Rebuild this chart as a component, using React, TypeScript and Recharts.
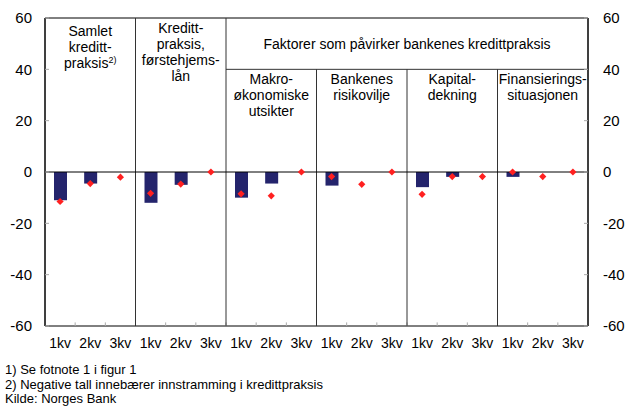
import {
  Bar,
  ComposedChart,
  Line,
  ReferenceArea,
  ReferenceDot,
  ReferenceLine,
  Scatter,
  XAxis,
  YAxis,
} from 'recharts'

const quarters = ['1kv', '2kv', '3kv']
const groupTitles = [
  ['Samlet', 'kreditt-', 'praksis'],
  ['Kreditt-', 'praksis,', 'førstehjems-', 'lån'],
  ['Makro-', 'økonomiske', 'utsikter'],
  ['Bankenes', 'risikovilje'],
  ['Kapital-', 'dekning'],
  ['Finansierings-', 'situasjonen'],
]
const factorTitle = 'Faktorer som påvirker bankenes kredittpraksis'
// bars: 1kv, 2kv, 3kv for each group
const barValues = [
  -11, -4.5, null,
  -12, -5, null,
  -10, -4.5, null,
  -5.3, null, null,
  -5.9, -1.9, null,
  -1.9, null, null,
]
// red diamonds
const dotValues = [
  -11.5, -4.5, -2,
  -8.3, -4.7, 0,
  -8.5, -9.3, 0,
  -1.8, -4.8, 0,
  -8.7, -1.8, -1.8,
  0, -1.8, 0,
]
const yTicks = [-60, -40, -20, 0, 20, 40, 60]
const footnotes = [
  '1) Se fotnote 1 i figur 1',
  '2) Negative tall innebærer innstramming i kredittpraksis',
  'Kilde: Norges Bank',
]

const data = barValues.map((b, i) => ({ x: i + 0.5, bar: b, dot: dotValues[i] }))
const xTicks = data.map((d) => d.x)
const boundaries = Array.from({ length: 17 }, (_, i) => i + 1)

const font = 'Liberation Sans, Arial, sans-serif'
const narrow = 'Liberation Sans Narrow, Liberation Sans, Arial, sans-serif'

function Diamond(props: any) {
  const { cx, cy } = props
  if (cx == null || cy == null) return null
  const r = 3.6
  return (
    <path
      d={`M${cx},${cy - r}L${cx + r},${cy}L${cx},${cy + r}L${cx - r},${cy}Z`}
      fill="#ff2020"
    />
  )
}

function headerShape(lines: string[], sup?: string) {
  return (p: any) => (
    <text
      x={p.cx}
      y={p.cy}
      textAnchor="middle"
      fontFamily={font}
      fontSize={14}
      fill="#000"
    >
      {lines.map((l, i) => (
        <tspan key={i} x={p.cx} dy={i === 0 ? 0 : 16}>
          {l}
          {sup && i === lines.length - 1 ? (
            <tspan fontSize={9} dy={-5}>
              {sup}
            </tspan>
          ) : null}
        </tspan>
      ))}
    </text>
  )
}

export default function App() {
  return (
    <div style={{ position: 'absolute', left: 0, top: 0, width: 631, height: 414, background: '#fff' }}>
      <ComposedChart
        width={631}
        height={352}
        data={data}
        margin={{ top: 18, right: 0, bottom: 0, left: 0 }}
      >
        <XAxis
          dataKey="x"
          type="number"
          domain={[0, 18]}
          ticks={xTicks}
          interval={0}
          tickFormatter={(v: number) => quarters[Math.floor(v) % 3]}
          axisLine={false}
          tickLine={false}
          tickSize={0}
          tickMargin={12}
          height={26}
          tick={{ fill: '#000', fontSize: 14, fontFamily: narrow }}
        />
        <YAxis
          yAxisId="l"
          domain={[-60, 60]}
          ticks={yTicks}
          width={45}
          axisLine={{ stroke: '#000' }}
          tickLine={{ stroke: '#aaa' }}
          tickSize={-4}
          tickMargin={17}
          tick={{ fill: '#000', fontSize: 15, fontFamily: font }}
        />
        <YAxis
          yAxisId="r"
          orientation="right"
          domain={[-60, 60]}
          ticks={yTicks}
          width={43}
          axisLine={{ stroke: '#000' }}
          tickLine={{ stroke: '#aaa' }}
          tickSize={-4}
          tickMargin={19}
          tick={{ fill: '#000', fontSize: 15, fontFamily: font }}
        />
        <ReferenceArea
          yAxisId="l"
          x1={0}
          x2={18}
          y1={-60}
          y2={60}
          fill="none"
          fillOpacity={0}
          stroke="#000"
          strokeWidth={1}
        />
        {boundaries.map((b) => (
          <ReferenceLine
            key={`t${b}`}
            yAxisId="l"
            segment={[
              { x: b, y: -60 },
              { x: b, y: -58.6 },
            ]}
            stroke="#aaa"
          />
        ))}
        {[3, 6].map((b) => (
          <ReferenceLine
            key={`g${b}`}
            yAxisId="l"
            segment={[
              { x: b, y: -60 },
              { x: b, y: 60 },
            ]}
            stroke="#333"
          />
        ))}
        {[9, 12, 15].map((b) => (
          <ReferenceLine
            key={`f${b}`}
            yAxisId="l"
            segment={[
              { x: b, y: -60 },
              { x: b, y: 40 },
            ]}
            stroke="#333"
          />
        ))}
        <ReferenceLine
          yAxisId="l"
          segment={[
            { x: 6, y: 40 },
            { x: 18, y: 40 },
          ]}
          stroke="#333"
        />
        <ReferenceLine yAxisId="l" y={0} stroke="#000" />
        <Bar
          yAxisId="l"
          dataKey="bar"
          barSize={13}
          fill="#24246c"
          isAnimationActive={false}
        />
        <Scatter
          yAxisId="l"
          dataKey="dot"
          shape={<Diamond />}
          isAnimationActive={false}
        />
        {/* invisible series so the right axis gets drawn */}
        <Line
          yAxisId="r"
          dataKey="dot"
          stroke="none"
          dot={false}
          activeDot={false}
          legendType="none"
          isAnimationActive={false}
        />
        <ReferenceDot yAxisId="l" x={1.5} y={52.8} r={0} shape={headerShape(groupTitles[0], '2)')} />
        <ReferenceDot yAxisId="l" x={4.5} y={54.2} r={0} shape={headerShape(groupTitles[1])} />
        <ReferenceDot yAxisId="l" x={12} y={48.1} r={0} shape={headerShape([factorTitle])} />
        {groupTitles.slice(2).map((t, i) => (
          <ReferenceDot
            key={`h${i}`}
            yAxisId="l"
            x={7.5 + i * 3}
            y={34.1}
            r={0}
            shape={headerShape(t)}
          />
        ))}
      </ComposedChart>
      <div
        style={{
          position: 'absolute',
          left: 5,
          top: 363,
          fontFamily: font,
          fontSize: 13,
          lineHeight: '14.5px',
          color: '#000',
        }}
      >
        {footnotes.map((f) => (
          <div key={f}>{f}</div>
        ))}
      </div>
    </div>
  )
}
